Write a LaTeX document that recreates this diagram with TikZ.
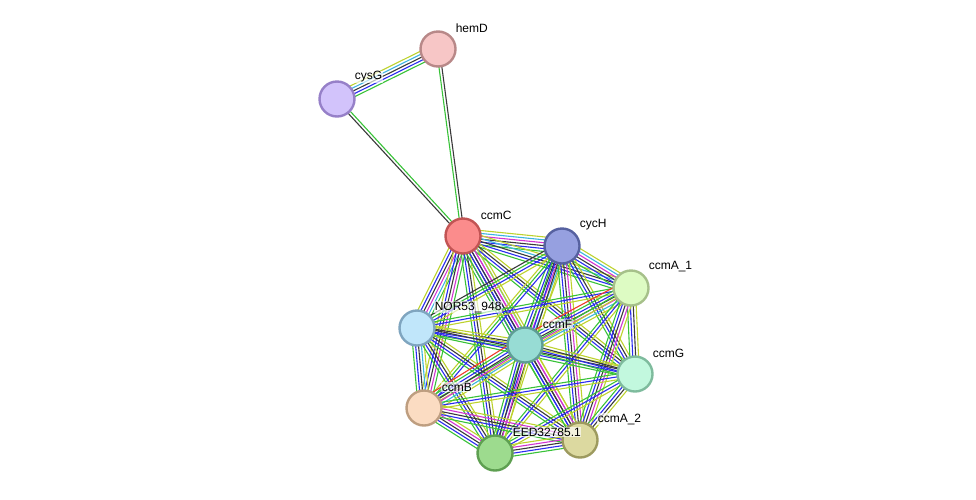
\documentclass[tikz,border=0pt]{standalone}
\usepackage{fontspec}
\setmainfont{Liberation Sans}
\usetikzlibrary{calc,backgrounds}
\definecolor{eg}{HTML}{38C238}
\definecolor{eu}{HTML}{2B2BF0}
\definecolor{ek}{HTML}{3A3A3A}
\definecolor{em}{HTML}{D235D2}
\definecolor{ec}{HTML}{3CB4E0}
\definecolor{ey}{HTML}{BDD22E}
\definecolor{er}{HTML}{F03A28}
\tikzset{
  prot/.style={circle, minimum size=35pt, inner sep=0pt, line width=2.4pt},
  lbl/.style={anchor=west, font=\fontsize{12}{14}\selectfont, fill=white, fill opacity=0.65, text opacity=1, inner sep=0.6pt},
  eline/.style={line width=1.1pt},
}
\newcommand\medge[3]{%
  \foreach \cc [count=\ii] in {#3} {\xdef\nlines{\ii}}%
  \foreach \cc [count=\ii] in {#3} {%
    \pgfmathsetmacro\off{(\ii-(\nlines+1)/2)*2.9}%
    \draw[eline, color=e\cc] ($(#1.center)!\off pt!90:(#2.center)$) -- ($(#2.center)!\off pt!-90:(#1.center)$);
  }}
\begin{document}
\begin{tikzpicture}[x=1pt,y=-1pt]
\useasboundingbox (0,0) rectangle (976,499);
\node[prot, draw={rgb,255:red,184;green,136;blue,136}, fill={rgb,255:red,247;green,198;blue,198}] (hemD) at (438,49) {};
\node[prot, draw={rgb,255:red,150;green,128;blue,200}, fill={rgb,255:red,210;green,195;blue,251}] (cysG) at (337,99) {};
\node[prot, draw={rgb,255:red,194;green,84;blue,84}, fill={rgb,255:red,251;green,140;blue,140}] (ccmC) at (463,236) {};
\node[prot, draw={rgb,255:red,86;green,97;blue,160}, fill={rgb,255:red,150;green,160;blue,224}] (cycH) at (562,246) {};
\node[prot, draw={rgb,255:red,166;green,192;blue,138}, fill={rgb,255:red,221;green,251;blue,195}] (ccmAa) at (631,288) {};
\node[prot, draw={rgb,255:red,127;green,165;blue,191}, fill={rgb,255:red,192;green,230;blue,250}] (nor) at (417,328) {};
\node[prot, draw={rgb,255:red,94;green,157;blue,148}, fill={rgb,255:red,151;green,220;blue,212}] (ccmF) at (525,345) {};
\node[prot, draw={rgb,255:red,126;green,187;blue,157}, fill={rgb,255:red,194;green,248;blue,222}] (ccmG) at (635,374) {};
\node[prot, draw={rgb,255:red,190;green,158;blue,128}, fill={rgb,255:red,251;green,220;blue,194}] (ccmB) at (424,408) {};
\node[prot, draw={rgb,255:red,94;green,159;blue,81}, fill={rgb,255:red,157;green,219;blue,142}] (eed) at (495,453) {};
\node[prot, draw={rgb,255:red,157;green,154;blue,95}, fill={rgb,255:red,220;green,217;blue,160}] (ccmAb) at (580,440) {};
\begin{scope}[on background layer]
\medge{cysG}{hemD}{g,u,k,c,y}
\medge{cysG}{ccmC}{k,g}
\medge{hemD}{ccmC}{g,k}
\medge{ccmC}{cycH}{g,u,k,m,c,y}
\medge{ccmC}{ccmAa}{g,u,k,c,y}
\medge{ccmC}{nor}{y,u,k,m,c,g}
\medge{ccmC}{ccmF}{g,u,k,u,m,c,y}
\medge{ccmC}{ccmG}{g,u,k,y}
\medge{ccmC}{ccmB}{y,u,k,m,g}
\medge{ccmC}{eed}{g,u,k,y}
\medge{ccmC}{ccmAb}{g,u,k,m,y}
\medge{cycH}{ccmAa}{g,u,k,m,c,y}
\medge{cycH}{nor}{k,g,u,y}
\medge{cycH}{ccmF}{g,u,k,m,c,y}
\medge{cycH}{ccmG}{g,u,k,y}
\medge{cycH}{ccmB}{y,g,u}
\medge{cycH}{eed}{g,u,k,y}
\medge{cycH}{ccmAb}{g,u,k,m,y}
\medge{ccmAa}{nor}{g,u,y}
\medge{ccmAa}{ccmF}{r,g,u,k,m,c,y}
\medge{ccmAa}{ccmG}{g,u,k,y}
\medge{ccmAa}{ccmB}{g,y}
\medge{ccmAa}{eed}{g,u,y}
\medge{ccmAa}{ccmAb}{g,u,k,m,y}
\medge{nor}{ccmF}{g,u,k,y}
\medge{nor}{ccmG}{g,u,k,y}
\medge{nor}{ccmB}{g,u,k,c,y}
\medge{nor}{eed}{g,u,k,y}
\medge{nor}{ccmAb}{g,u,k,y}
\medge{ccmF}{ccmG}{g,u,k,y}
\medge{ccmF}{ccmB}{r,g,u,k,m,c,y}
\medge{ccmF}{eed}{g,u,k,m,y}
\medge{ccmF}{ccmAb}{g,u,k,m,y}
\medge{ccmG}{ccmB}{g,u,y}
\medge{ccmG}{eed}{g,u,y}
\medge{ccmG}{ccmAb}{g,u,k,y}
\medge{ccmB}{eed}{g,u,k,m,y}
\medge{ccmB}{ccmAb}{g,u,k,m,y}
\medge{eed}{ccmAb}{g,u,k,m,y}
\end{scope}
\node[lbl] (hemD-l) at ($(hemD)+(17,-21)$) {hemD};
\node[lbl] (cysG-l) at ($(cysG)+(17,-22)$) {cysG};
\node[lbl] (ccmC-l) at ($(ccmC)+(17,-21)$) {ccmC};
\node[lbl] (cycH-l) at ($(cycH)+(17,-21)$) {cycH};
\node[lbl] (ccmAa-l) at ($(ccmAa)+(17,-21)$) {ccmA\_1};
\node[lbl] (nor-l) at ($(nor)+(17,-21)$) {NOR53\_948};
\node[lbl] (ccmF-l) at ($(ccmF)+(17,-21)$) {ccmF};
\node[lbl] (ccmG-l) at ($(ccmG)+(17,-21)$) {ccmG};
\node[lbl] (ccmB-l) at ($(ccmB)+(17,-21)$) {ccmB};
\node[lbl] (eed-l) at ($(eed)+(17,-21)$) {EED32785.1};
\node[lbl] (ccmAb-l) at ($(ccmAb)+(17,-21)$) {ccmA\_2};
\end{tikzpicture}
\end{document}
